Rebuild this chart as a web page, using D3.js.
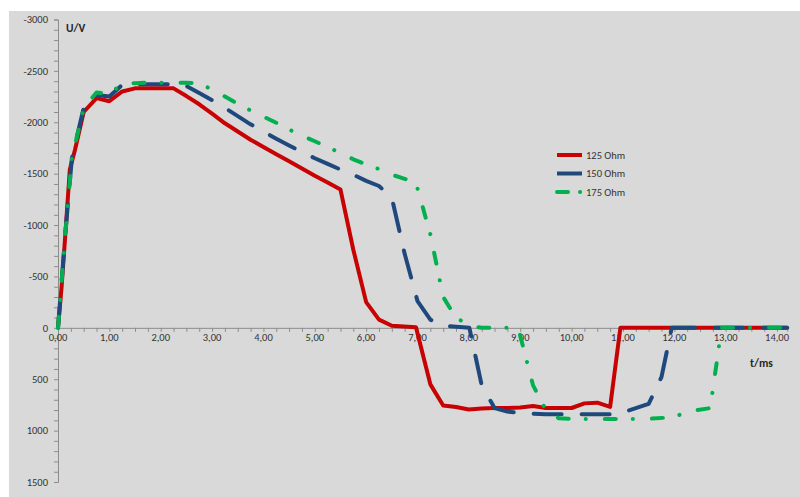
<!DOCTYPE html>
<html>
<head>
<meta charset="utf-8">
<script src="https://d3js.org/d3.v7.min.js"></script>
<style>
  body { margin: 0; background: #fff; }
  svg text { font-family: Carlito, Calibri, "Liberation Sans", Arial, sans-serif; }
</style>
</head>
<body>
<div id="chart"></div>
<script>
// time in ms, voltage in V (negative values plotted upward)
var t125 = [0, 0.07, 0.14, 0.23, 0.33, 0.5, 0.75, 1.0, 1.25, 1.5, 1.75, 2.0, 2.25, 2.5, 2.75, 3.0, 3.25, 3.5, 3.75, 4.0, 4.25, 4.5, 4.75, 5.0, 5.25, 5.5, 5.75, 6.0, 6.25, 6.5, 6.97, 7.25, 7.5, 7.75, 8.0, 8.25, 8.5, 8.75, 9.0, 9.25, 9.5, 9.75, 10.0, 10.25, 10.5, 10.75, 10.95, 12.0, 13.0, 14.2];
var u125 = [0, -400, -890, -1540, -1730, -2100, -2235, -2205, -2300, -2330, -2330, -2330, -2330, -2255, -2175, -2085, -1990, -1910, -1830, -1760, -1690, -1620, -1550, -1480, -1415, -1345, -760, -250, -80, -20, -5, 550, 755, 770, 795, 785, 780, 780, 775, 760, 780, 780, 780, 735, 728, 770, 0, 0, 0, 0];

var t150 = [0, 0.05, 0.14, 0.27, 0.5, 0.75, 1.0, 1.25, 1.5, 1.75, 2.0, 2.25, 2.44, 2.75, 3.0, 3.25, 3.5, 3.75, 4.0, 4.25, 4.5, 4.75, 5.0, 5.25, 5.5, 5.75, 6.0, 6.25, 6.5, 6.75, 7.0, 7.25, 7.5, 8.01, 8.25, 8.5, 8.75, 9.0, 9.5, 10.0, 10.5, 10.9, 11.5, 11.75, 11.95, 13.0, 14.2];
var u150 = [0, -320, -900, -1650, -2140, -2265, -2250, -2365, -2370, -2370, -2370, -2370, -2370, -2285, -2215, -2140, -2060, -1980, -1910, -1840, -1775, -1710, -1650, -1595, -1540, -1490, -1430, -1380, -1265, -720, -260, -80, -20, 0, 560, 780, 815, 830, 840, 840, 840, 840, 740, 480, 0, 0, 0];

var t175 = [0, 0.05, 0.14, 0.27, 0.5, 0.75, 1.0, 1.25, 1.5, 1.75, 2.0, 2.25, 2.5, 2.73, 3.0, 3.25, 3.5, 3.75, 4.0, 4.25, 4.5, 4.75, 5.0, 5.25, 5.5, 5.75, 6.0, 6.25, 6.5, 6.75, 6.97, 7.25, 7.5, 7.75, 8.05, 8.25, 8.96, 9.25, 9.5, 9.75, 10.0, 10.5, 11.0, 11.5, 12.0, 12.25, 12.7, 12.92, 14.2];
var u175 = [0, -320, -900, -1650, -2140, -2290, -2275, -2375, -2380, -2385, -2385, -2385, -2385, -2380, -2320, -2250, -2180, -2115, -2055, -1995, -1930, -1870, -1815, -1760, -1700, -1640, -1590, -1545, -1490, -1450, -1410, -910, -300, -95, -20, 0, 0, 560, 800, 880, 885, 888, 888, 885, 869, 814, 781, 0, 0];

var seriesNames = ["125 Ohm", "150 Ohm", "175 Ohm"];
var yTicks = [-3000, -2500, -2000, -1500, -1000, -500, 0, 500, 1000, 1500];
var xTicks = [0, 1, 2, 3, 4, 5, 6, 7, 8, 9, 10, 11, 12, 13, 14];

var width = 800, height = 497;

var svg = d3.select("#chart").append("svg")
    .attr("width", width)
    .attr("height", height);

// grey chart area
svg.append("rect")
    .attr("x", 9).attr("y", 11)
    .attr("width", width - 9).attr("height", height - 11)
    .attr("fill", "#d9d9d9");

var x = d3.scaleLinear().domain([0, 14.2]).range([58, 787.3]);
var y = d3.scaleLinear().domain([-3000, 1500]).range([19.5, 482]);

var axisColor = "#8c8c8c";
var labelColor = "#333333";

// y axis: minor ticks every 100, labels every 500
var yAxis = svg.append("g")
    .attr("transform", "translate(" + x(0) + ",0)")
    .call(d3.axisLeft(y).tickValues(d3.range(-3000, 1501, 100)).tickSize(4).tickFormat(""));
yAxis.select(".domain").attr("stroke", axisColor);
yAxis.selectAll(".tick line").attr("stroke", axisColor);

svg.append("g").selectAll("text")
    .data(yTicks)
    .enter().append("text")
    .attr("x", 48)
    .attr("y", function(d){ return y(d); })
    .attr("dy", "0.35em")
    .attr("text-anchor", "end")
    .attr("font-size", 10.5)
    .attr("fill", labelColor)
    .text(function(d){ return d; });

// x axis sits on U = 0, minor ticks every 0.25
var xAxis = svg.append("g")
    .attr("transform", "translate(0," + y(0) + ")")
    .call(d3.axisBottom(x).tickValues(d3.range(0, 14.21, 0.25)).tickSize(4).tickFormat(""));
xAxis.select(".domain").attr("stroke", axisColor);
xAxis.selectAll(".tick line").attr("stroke", axisColor);

var fmt = d3.format(".2f");
svg.append("g").selectAll("text")
    .data(xTicks)
    .enter().append("text")
    .attr("x", function(d){ return x(d); })
    .attr("y", y(0) + 13)
    .attr("text-anchor", "middle")
    .attr("font-size", 10.5)
    .attr("fill", labelColor)
    .text(function(d){ return fmt(d).replace(".", ","); });

// axis titles
svg.append("text")
    .attr("x", 66).attr("y", 32)
    .attr("font-size", 11.5)
    .attr("font-weight", "bold")
    .attr("fill", "#262626")
    .text("U/V");

svg.append("text")
    .attr("x", 750).attr("y", 367)
    .attr("font-size", 11.5)
    .attr("font-weight", "bold")
    .attr("fill", "#262626")
    .text("t/ms");

// series
var styles = [
    { color: "#c80000", dash: null },
    { color: "#1f497d", dash: "28,20" },
    { color: "#00b050", dash: "11,17,0.1,19" }
];
var tData = [t125, t150, t175];
var uData = [u125, u150, u175];

var line = d3.line()
    .x(function(d){ return x(d[0]); })
    .y(function(d){ return y(d[1]); });

for (var i = 0; i < 3; i++) {
    var pts = tData[i].map(function(t, j){ return [t, uData[i][j]]; });
    svg.append("path")
        .attr("d", line(pts))
        .attr("fill", "none")
        .attr("stroke", styles[i].color)
        .attr("stroke-width", 4)
        .attr("stroke-linejoin", "round")
        .attr("stroke-linecap", styles[i].dash ? "round" : "butt")
        .attr("stroke-dasharray", styles[i].dash);
}

// legend
var legendY = [155, 173.5, 192];
var legendDash = [null, null, "11,12,0.1,30"];
for (var k = 0; k < 3; k++) {
    svg.append("line")
        .attr("x1", 557).attr("x2", 582)
        .attr("y1", legendY[k]).attr("y2", legendY[k])
        .attr("stroke", styles[k].color)
        .attr("stroke-width", 4)
        .attr("stroke-linecap", k == 2 ? "round" : "butt")
        .attr("stroke-dasharray", legendDash[k]);
    svg.append("text")
        .attr("x", 586).attr("y", legendY[k])
        .attr("dy", "0.35em")
        .attr("font-size", 10.5)
        .attr("fill", labelColor)
        .text(seriesNames[k]);
}
</script>
</body>
</html>
